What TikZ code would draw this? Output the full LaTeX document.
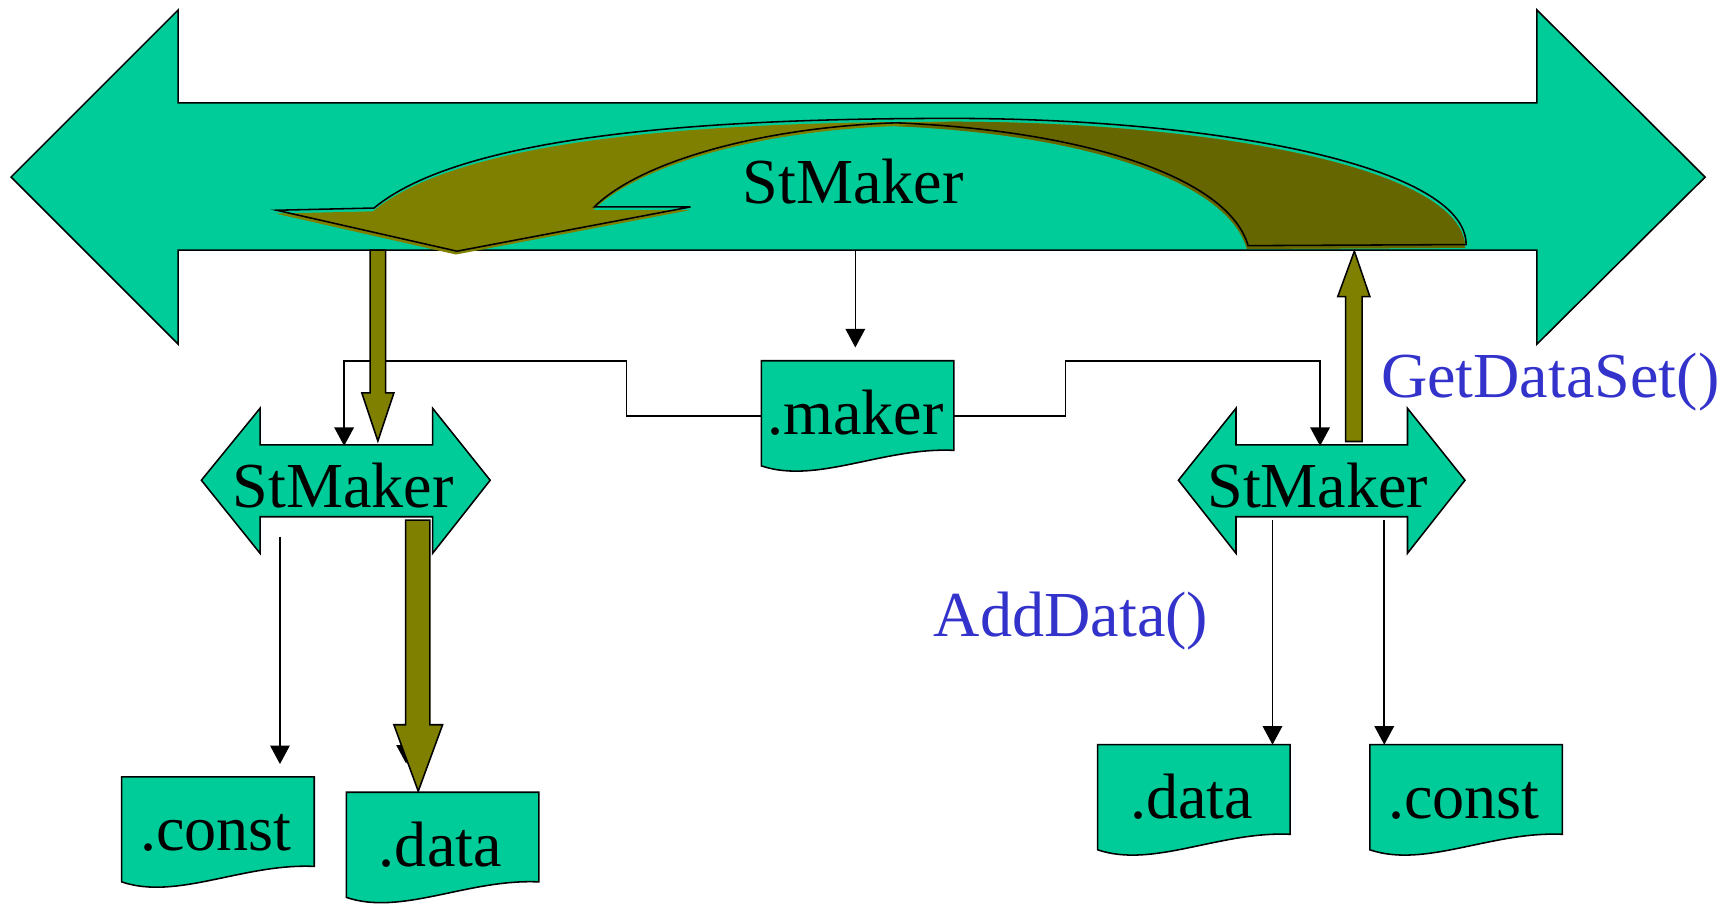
\documentclass[tikz,border=0pt]{standalone}
\usepackage{fontspec}
\setmainfont{Liberation Serif}
\usetikzlibrary{arrows.meta}
\definecolor{seagreen}{RGB}{0,204,153}
\definecolor{olivefront}{RGB}{128,128,0}
\definecolor{oliveback}{RGB}{102,102,0}
\definecolor{callblue}{RGB}{51,51,204}
\tikzset{
  shapebox/.style={draw=black,fill=seagreen,line width=0.8pt},
  fatarrow/.style={draw=black,fill=olivefront,line width=0.8pt},
  link/.style={draw=black,line width=0.8pt,-{Triangle[width=10pt,length=9.5pt]}},
  word/.style={font=\fontsize{33}{40}\selectfont,inner sep=0pt,anchor=base},
  call/.style={word,text=callblue},
}

\begin{document}
\begin{tikzpicture}[x=0.02cm,y=-0.02cm]
\useasboundingbox (0,0) rectangle (1568,819);
% the chain, both ways
\draw[shapebox] (10,160) -- (161,9) -- (161,93) -- (1389,93) -- (1389,9) -- (1541,160) -- (1389,311) -- (1389,226) -- (161,226) -- (161,311) -- cycle;
\coordinate (chainM) at (773,226);
% turning arrow: shadow fill, then outline
\fill[olivefront,shift={(-1,3)}] (1128,222) .. controls (1110,160) and (980,118) .. (810,111) .. controls (690,115) and (580,145) .. (537,187) -- (624,187) -- (413,227) -- (250,190) -- (338,188) .. controls (420,120) and (650,107) .. (860,107) .. controls (1100,107) and (1325,150) .. (1325,221) -- cycle;
\fill[oliveback,shift={(-1,3)}] (1128,222) .. controls (1110,160) and (980,118) .. (810,111) -- (860,107) .. controls (1100,107) and (1325,150) .. (1325,221) -- cycle;
\draw[line width=0.8pt] (1128,222) .. controls (1110,160) and (980,118) .. (810,111) .. controls (690,115) and (580,145) .. (537,187) -- (624,187) -- (413,227) -- (250,190) -- (338,188) .. controls (420,120) and (650,107) .. (860,107) .. controls (1100,107) and (1325,150) .. (1325,221) -- cycle;
\node[word] (chainmaker) at (771,184) {StMaker};

% the two makers
\draw[shapebox] (182,434) -- (235,369) -- (235,402) -- (391,402) -- (391,369) -- (443,434) -- (391,500) -- (391,467) -- (235,467) -- (235,500) -- cycle;
\node[word] (leftmaker) at (310,459) {StMaker};
\draw[shapebox] (1065,434) -- (1117,369) -- (1117,402) -- (1272,402) -- (1272,369) -- (1324,434) -- (1272,500) -- (1272,467) -- (1117,467) -- (1117,500) -- cycle;
\node[word] (rightmaker) at (1191,459) {StMaker};
\coordinate (leftIn) at (311,403);
\coordinate (rightIn) at (1193,403);
\coordinate (leftOutA) at (253,485);
\coordinate (leftOutB) at (367,470);
\coordinate (rightOutA) at (1150,470);
\coordinate (rightOutB) at (1251,470);

% datasets
\foreach \n/\x/\y/\txt in {maker/688/326/.maker, leftconst/110/702/.const, leftdata/313/716/.data, rightdata/992/673/.data, rightconst/1238/673/.const}{
  \draw[shapebox] (\x,\y) -- (\x+174,\y) -- (\x+174,\y+81) .. controls (\x+110,\y+78) and (\x+50,\y+112) .. (\x,\y+95) -- cycle;
  \node[word] (\n) at (\x+85,\y+67) {\txt};
  \coordinate (\n-top) at (\x+87,\y);
  \coordinate (\n-west) at (\x,\y+50);
  \coordinate (\n-east) at (\x+174,\y+50);
}

% links
\draw[link,shorten >=0.24cm] (chainM) -- (chainM |- maker-top);
\draw[link] (maker-west) -- ++(-122,0) -- ++(0,-50) -| (leftIn);
\draw[link] (maker-east) -- ++(101,0) -- ++(0,-50) -| (rightIn);
\draw[link,shorten >=0.23cm] (leftOutA) -- (leftOutA |- leftconst-top);
\draw[link,shorten >=0.52cm] (leftOutB) -- (leftOutB |- leftdata-top);
\draw[link] (rightOutA) -- (rightOutA |- rightdata-top);
\draw[link] (rightOutB) -- (rightOutB |- rightconst-top);

% data flow
\draw[fatarrow] (334.5,226) -- (334.5,355) -- (327,355) -- (341.5,398.5) -- (356,355) -- (348.5,355) -- (348.5,226) -- cycle;
\draw[fatarrow] (366.5,470) -- (366.5,655) -- (356,655) -- (378,715) -- (400,655) -- (388.5,655) -- (388.5,470) -- cycle;
\draw[fatarrow] (1216,399) -- (1216,268) -- (1209,268) -- (1224,227) -- (1238,268) -- (1231,268) -- (1231,399) -- cycle;

\node[call] (getcall) at (1401,359) {GetDataSet()};
\node[call] (addcall) at (968,575) {AddData()};
\end{tikzpicture}
\end{document}
